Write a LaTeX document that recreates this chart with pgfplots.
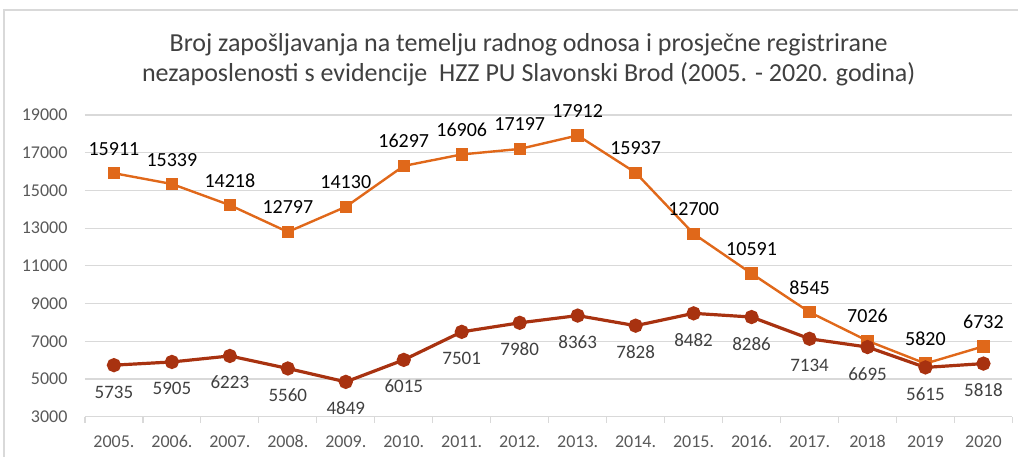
\documentclass[border=0pt]{standalone}
\usepackage{fontspec}
\setmainfont{Carlito}
\usepackage{pgfplots}
\pgfplotsset{compat=1.18}
\definecolor{orng}{RGB}{224,104,26}
\definecolor{dred}{RGB}{168,50,16}
\definecolor{grd}{RGB}{217,217,217}
\definecolor{txt}{RGB}{64,64,64}
\definecolor{tck}{RGB}{89,89,89}
\begin{document}
\begin{tikzpicture}[x=1pt,y=1pt]
\path (0,0) rectangle (1019,457);
\draw[grd, line width=1.2pt] (4,0) -- (4,447) -- (1019,447);
\node[font=\fontsize{26}{30}\selectfont, text=txt, align=center] at (529,397) {Broj zapošljavanja na temelju radnog odnosa i prosječne registrirane\\nezaposlenosti s evidencije\ \ HZZ PU Slavonski Brod (2005. - 2020. godina)};
\begin{axis}[at={(85pt,40pt)}, anchor=south west, scale only axis,
  width=928pt, height=302pt,
  xmin=-0.5, xmax=15.5, ymin=3000, ymax=19000,
  ytick={3000,5000,...,19000},
  xtick={0,...,15},
  xticklabels={2005.,2006.,2007.,2008.,2009.,2010.,2011.,2012.,2013.,2014.,2015.,2016.,2017.,2018,2019,2020},
  extra x ticks={-0.5,0.5,...,15.5},
  extra x tick labels={},
  extra x tick style={major tick length=6pt, tick align=outside, major tick style={grd, line width=1.2pt}, grid=none},
  major tick length=0pt,
  axis x line*=bottom,
  axis y line*=left,
  y axis line style={draw=none},
  x axis line style={grd, line width=1.2pt, -},
  ymajorgrids,
  grid style={grd, line width=1.2pt},
  scaled y ticks=false,
  /pgf/number format/1000 sep={},
  /pgf/number format/assume math mode=true,
  ticklabel style={font=\fontsize{18}{20}\selectfont, text=tck},
  yticklabel style={anchor=east, xshift=-14pt},
  xticklabel style={anchor=base, yshift=-30.5pt},
  clip=false,
]
\addplot[orng, line width=2.4pt, mark=square*, mark size=5pt, mark options={solid},
  nodes near coords,
  nodes near coords style={font=\fontsize{20}{22}\selectfont, text=black, anchor=base, inner sep=0pt, yshift=18pt}]
 coordinates {(0,15911)(1,15339)(2,14218)(3,12797)(4,14130)(5,16297)(6,16906)(7,17197)(8,17912)(9,15937)(10,12700)(11,10591)(12,8545)(13,7026)(14,5820)(15,6732)};
\addplot[dred, line width=3.2pt, mark=*, mark size=5.5pt, mark options={solid},
  nodes near coords,
  nodes near coords style={font=\fontsize{19}{22}\selectfont, text=txt, anchor=base, inner sep=0pt, yshift=-33pt}]
 coordinates {(0,5735)(1,5905)(2,6223)(3,5560)(4,4849)(5,6015)(6,7501)(7,7980)(8,8363)(9,7828)(10,8482)(11,8286)(12,7134)(13,6695)(14,5615)(15,5818)};
\end{axis}
\end{tikzpicture}
\end{document}
